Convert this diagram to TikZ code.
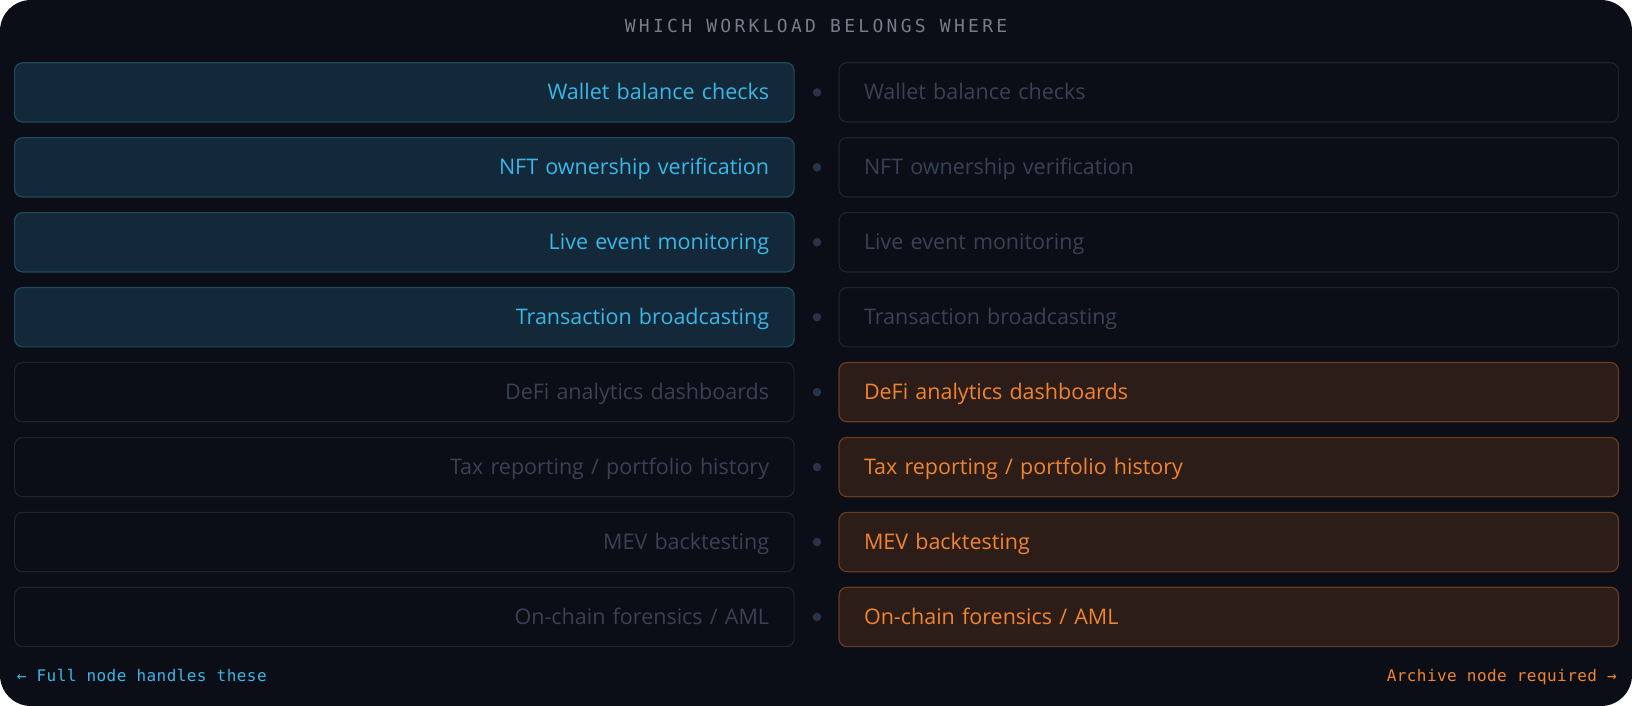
\documentclass[tikz,border=0pt]{standalone}
\usepackage{fontspec}
\setmainfont{Open Sans}
\newfontfamily\monofont[LetterSpace=2.8]{DejaVu Sans Mono}
\newfontfamily\titlefont[LetterSpace=18.3]{DejaVu Sans Mono}
\usepackage{tikz}
\usetikzlibrary{positioning}
\usepackage{xcolor}
\definecolor{panelbg}{RGB}{11,14,23}
\definecolor{fullfill}{RGB}{19,41,57}
\definecolor{fullline}{RGB}{31,74,94}
\definecolor{fulltext}{RGB}{58,182,232}
\definecolor{archfill}{RGB}{45,29,25}
\definecolor{archline}{RGB}{106,58,30}
\definecolor{archtext}{RGB}{240,132,48}
\definecolor{dimline}{RGB}{29,35,49}
\definecolor{dimtext}{RGB}{57,65,84}
\definecolor{dotgray}{RGB}{43,52,71}
\definecolor{titlegray}{RGB}{118,124,137}

\begin{document}
\begin{tikzpicture}[x=1pt,y=1pt,
	box/.style={rectangle, rounded corners=8pt, line width=1.2pt, outer sep=0pt,
		minimum width=779.5pt, minimum height=59.3pt, text width=729.5pt, inner xsep=25pt,
		inner ysep=0pt, text height=15.3pt, text depth=0.7pt, font=\fontsize{21.5}{24}\selectfont},
	fullbox/.style={box, fill=fullfill, draw=fullline, text=fulltext, align=right},
	fullghost/.style={box, draw=dimline, text=dimtext, align=right},
	archbox/.style={box, fill=archfill, draw=archline, text=archtext, align=left},
	archghost/.style={box, draw=dimline, text=dimtext, align=left},
	dot/.style={circle, fill=dotgray, inner sep=0pt, outer sep=0pt, minimum size=8.5pt},
	footnote/.style={inner sep=0pt, font=\monofont\fontsize{16}{18}\selectfont}]

	% panel
	\fill[white] (0,0) rectangle (1632,706);
	\fill[panelbg, rounded corners=31pt] (0,0) rectangle (1632,706);

	\node[inner sep=0pt, text=titlegray, font=\titlefont\fontsize{18}{20}\selectfont] (title) at (816,679.7)
		{WHICH WORKLOAD BELONGS WHERE};

	% full node column
	\node[fullbox] (full1) at (404.35,613.6) {Wallet balance checks};
	\node[fullbox, below=15.64pt of full1] (full2) {NFT ownership verification};
	\node[fullbox, below=15.64pt of full2] (full3) {Live event monitoring};
	\node[fullbox, below=15.64pt of full3] (full4) {Transaction broadcasting};
	\node[fullghost, below=15.64pt of full4] (full5) {DeFi analytics dashboards};
	\node[fullghost, below=15.64pt of full5] (full6) {Tax reporting / portfolio history};
	\node[fullghost, below=15.64pt of full6] (full7) {MEV backtesting};
	\node[fullghost, below=15.64pt of full7] (full8) {On-chain forensics / AML};

	% dots and archive node column
	\foreach \i in {1,...,8}
		\node[dot, right=18.65pt of full\i] (dot\i) {};
	\node[archghost, right=17.75pt of dot1] (arch1) {Wallet balance checks};
	\node[archghost, right=17.75pt of dot2] (arch2) {NFT ownership verification};
	\node[archghost, right=17.75pt of dot3] (arch3) {Live event monitoring};
	\node[archghost, right=17.75pt of dot4] (arch4) {Transaction broadcasting};
	\node[archbox, right=17.75pt of dot5] (arch5) {DeFi analytics dashboards};
	\node[archbox, right=17.75pt of dot6] (arch6) {Tax reporting / portfolio history};
	\node[archbox, right=17.75pt of dot7] (arch7) {MEV backtesting};
	\node[archbox, right=17.75pt of dot8] (arch8) {On-chain forensics / AML};

	\node[footnote, text=fulltext, anchor=base west] (fullnote) at (16.7,24.3) {← Full node handles these};
	\node[footnote, text=archtext, anchor=base east] (archnote) at (1617,24.3) {Archive node required →};
\end{tikzpicture}
\end{document}
